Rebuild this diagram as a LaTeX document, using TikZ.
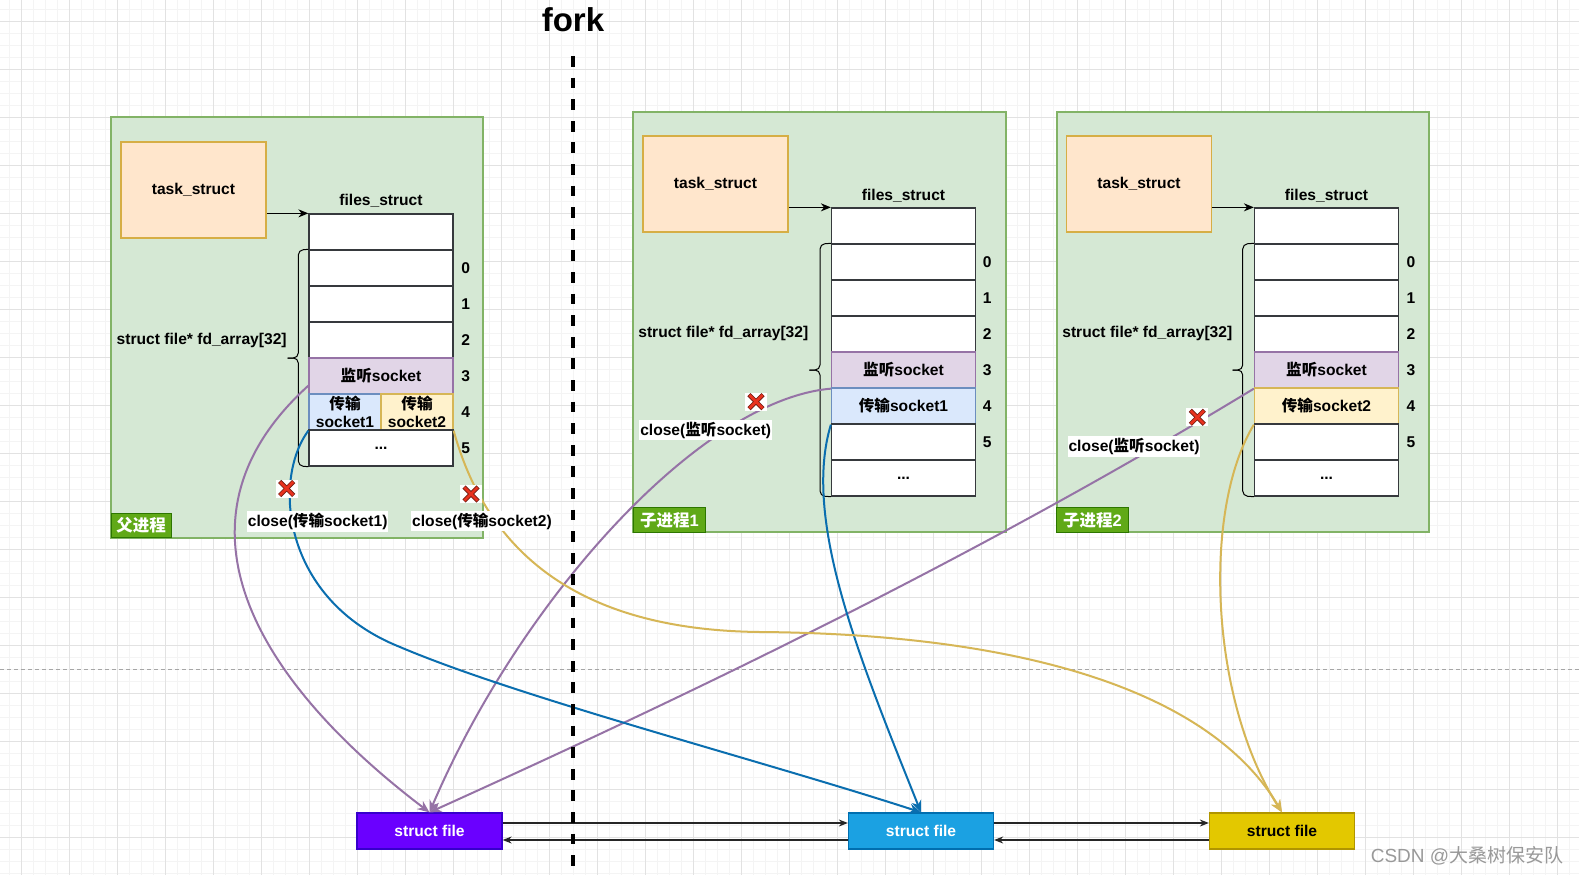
\documentclass[tikz,border=0pt]{standalone}
\usepackage{fontspec}
\setmainfont{Liberation Sans}
\newfontfamily\cjk{Noto Sans CJK SC}
\usetikzlibrary{arrows.meta,calc}
\newcommand\zh[1]{{\cjk #1}}
\definecolor{procfill}{HTML}{D5E8D4}
\definecolor{procline}{HTML}{82B366}
\definecolor{taskfill}{HTML}{FFE6CC}
\definecolor{taskline}{HTML}{D6AE45}
\definecolor{cellline}{HTML}{36393D}
\definecolor{listenfill}{HTML}{E1D5E7}
\definecolor{listenline}{HTML}{9673A6}
\definecolor{bluefill}{HTML}{DAE8FC}
\definecolor{blueline}{HTML}{6C8EBF}
\definecolor{yelfill}{HTML}{FFF2CC}
\definecolor{yelline}{HTML}{D6B656}
\definecolor{tagfill}{HTML}{60A917}
\definecolor{tagline}{HTML}{2D7600}
\definecolor{sfpfill}{HTML}{6A00FF}
\definecolor{sfpline}{HTML}{3700CC}
\definecolor{sfbfill}{HTML}{1BA1E2}
\definecolor{sfbline}{HTML}{006EAF}
\definecolor{sfyfill}{HTML}{E3C800}
\definecolor{sfyline}{HTML}{B09500}
\definecolor{cpurple}{HTML}{9673A6}
\definecolor{cblue}{HTML}{0A6EAF}
\definecolor{cyellow}{HTML}{D6B656}
\definecolor{xred}{HTML}{E8321E}
\definecolor{xdark}{HTML}{6E1A10}
\definecolor{gridmaj}{HTML}{E2E2E2}
\definecolor{gridmin}{HTML}{F4F4F4}
\tikzset{
  every node/.style={font=\bfseries\fontsize{15.6}{17.5}\selectfont, inner sep=0pt},
  proc/.style={draw=procline, fill=procfill, line width=1.2pt},
  tagbox/.style={draw=tagline, fill=tagfill, text=white, line width=1pt,
    font=\bfseries\fontsize{16.5}{18}\selectfont},
  task/.style={draw=taskline, fill=taskfill, line width=1.6pt, minimum width=145, minimum height=96},
  cell/.style={draw=cellline, fill=white, line width=1.3pt, minimum width=144, minimum height=36},
  listen/.style={cell, draw=listenline, fill=listenfill},
  bluecell/.style={cell, draw=blueline, fill=bluefill},
  yelcell/.style={cell, draw=yelline, fill=yelfill},
  halfblue/.style={bluecell, minimum width=72, align=center},
  halfyel/.style={yelcell, minimum width=72, align=center},
  brace/.style={draw=black, line width=1pt, rounded corners=5pt},
  tarrow/.style={draw=black, line width=1pt, -{Stealth[length=10pt,width=8pt]}},
  flow/.style={draw=black!85, line width=1.2pt, -{Stealth[length=9pt,width=7pt]}},
  curv/.style={line width=2pt, -{Stealth[length=12pt,width=10pt]}},
  purplec/.style={curv, draw=cpurple},
  bluec/.style={curv, draw=cblue},
  yellowc/.style={curv, draw=cyellow},
  sfile/.style={minimum width=145, minimum height=36, line width=1.3pt},
  closelbl/.style={fill=white, inner xsep=1pt, inner ysep=2pt},
  xmark/.style={fill=white, minimum width=22, minimum height=18,
    path picture={
      \draw[xdark, line width=4.4pt] ([shift={(-7,-7)}]path picture bounding box.center) -- ([shift={(7,7)}]path picture bounding box.center);
      \draw[xdark, line width=4.4pt] ([shift={(-7,7)}]path picture bounding box.center) -- ([shift={(7,-7)}]path picture bounding box.center);
      \draw[xred, line width=2.8pt] ([shift={(-6.6,-6.6)}]path picture bounding box.center) -- ([shift={(6.6,6.6)}]path picture bounding box.center);
      \draw[xred, line width=2.8pt] ([shift={(-6.6,6.6)}]path picture bounding box.center) -- ([shift={(6.6,-6.6)}]path picture bounding box.center);
    }},
  forkline/.style={draw=black, line width=3.6pt, dash pattern=on 10.8pt off 10.8pt},
}
\begin{document}
\begin{tikzpicture}[x=1pt,y=-1pt]
\useasboundingbox (0,0) rectangle (1579,875);
\fill[white] (0,0) rectangle (1579,875);
% grid
\foreach \i in {0,...,131} \draw[gridmin, line width=0.6pt] ({9+12*\i},0) -- ({9+12*\i},875);
\foreach \j in {0,...,72} \draw[gridmin, line width=0.6pt] (0,{9+12*\j}) -- (1579,{9+12*\j});
\foreach \i in {0,...,32} \draw[gridmaj, line width=0.8pt] ({21+48*\i},0) -- ({21+48*\i},875);
\foreach \j in {0,...,18} \draw[gridmaj, line width=0.8pt] (0,{21+48*\j}) -- (1579,{21+48*\j});
\draw[black!35, line width=0.8pt, dash pattern=on 4pt off 3pt] (0,669) -- (1579,669);

% containers
\node[proc, minimum width=372, minimum height=421] (pproc) at (297,327.5) {};
\node[proc, minimum width=373, minimum height=420] (c1proc) at (819.5,322) {};
\node[proc, minimum width=372, minimum height=420] (c2proc) at (1243,322) {};
\node[tagbox, minimum width=60, minimum height=24] (ptag) at (141,525.5) {\zh{父进程}};
\node[tagbox, minimum width=72, minimum height=25] (c1tag) at (669.5,520) {\zh{子进程}1};
\node[tagbox, minimum width=72, minimum height=25] (c2tag) at (1092.5,520) {\zh{子进程}2};

% parent
\node[task] (ptask) at (193.5,190) {task\_struct};
\node (pfs) at (381,201) {files\_struct};
\node[cell] (ptop) at (381,232) {};
\node[cell] (p0) at (381,268) {};
\node[cell] (p1) at (381,304) {};
\node[cell] (p2) at (381,340) {};
\node[listen] (p3) at (381,376) {\zh{监听}socket};
\node[halfblue] (p4a) at (345,412) {\zh{传输}\\socket1};
\node[halfyel] (p4b) at (417,412) {\zh{传输}\\socket2};
\node[cell] (p5) at (381,448) {...};
\node (pi0) at (465.7,268) {0};
\node (pi1) at (465.7,304) {1};
\node (pi2) at (465.7,340) {2};
\node (pi3) at (465.7,376) {3};
\node (pi4) at (465.7,412) {4};
\node (pi5) at (465.7,448) {5};
\node (pfd) at (201.7,340) {struct file* fd\_array[32]};
\draw[brace] (p0.north west) -- (298.3,250) -- (298.3,358) -- (287.7,358);
\draw[brace] (p5.south west) -- (298.3,466) -- (298.3,358) -- (287.7,358);
\draw[tarrow] (ptask.east |- ptop.north west) -- (ptop.north west);

% child 1
\node[task] (c1task) at (715.5,184) {task\_struct};
\node (c1fs) at (903.5,196) {files\_struct};
\node[cell] (c1top) at (903.5,226) {};
\node[cell] (c1r0) at (903.5,262) {};
\node[cell] (c1r1) at (903.5,298) {};
\node[cell] (c1r2) at (903.5,334) {};
\node[listen] (c1r3) at (903.5,370) {\zh{监听}socket};
\node[bluecell] (c1r4) at (903.5,406) {\zh{传输}socket1};
\node[cell] (c1r5) at (903.5,442) {};
\node[cell] (c1r6) at (903.5,478) {...};
\node (c1i0) at (987.3,262) {0};
\node (c1i1) at (987.3,298) {1};
\node (c1i2) at (987.3,334) {2};
\node (c1i3) at (987.3,370) {3};
\node (c1i4) at (987.3,406) {4};
\node (c1i5) at (987.3,442) {5};
\node (c1fd) at (723.3,333) {struct file* fd\_array[32]};
\draw[brace] (c1r0.north west) -- (820,244) -- (820,370) -- (809.3,370);
\draw[brace] (c1r6.south west) -- (820,496) -- (820,370) -- (809.3,370);
\draw[tarrow] (c1task.east |- c1top.north west) -- (c1top.north west);

% child 2
\node[task] (c2task) at (1139,184) {task\_struct};
\node (c2fs) at (1326.5,196) {files\_struct};
\node[cell] (c2top) at (1326.5,226) {};
\node[cell] (c2r0) at (1326.5,262) {};
\node[cell] (c2r1) at (1326.5,298) {};
\node[cell] (c2r2) at (1326.5,334) {};
\node[listen] (c2r3) at (1326.5,370) {\zh{监听}socket};
\node[yelcell] (c2r4) at (1326.5,406) {\zh{传输}socket2};
\node[cell] (c2r5) at (1326.5,442) {};
\node[cell] (c2r6) at (1326.5,478) {...};
\node (c2i0) at (1411,262) {0};
\node (c2i1) at (1411,298) {1};
\node (c2i2) at (1411,334) {2};
\node (c2i3) at (1411,370) {3};
\node (c2i4) at (1411,406) {4};
\node (c2i5) at (1411,442) {5};
\node (c2fd) at (1147.3,333) {struct file* fd\_array[32]};
\draw[brace] (c2r0.north west) -- (1242.7,244) -- (1242.7,370) -- (1232.7,370);
\draw[brace] (c2r6.south west) -- (1242.7,496) -- (1242.7,370) -- (1232.7,370);
\draw[tarrow] (c2task.east |- c2top.north west) -- (c2top.north west);

% struct files
\node[sfile, draw=sfpline, fill=sfpfill, text=white] (sf1) at (429.5,831) {struct file};
\node[sfile, draw=sfbline, fill=sfbfill, text=white] (sf2) at (921,831) {struct file};
\node[sfile, draw=sfyline, fill=sfyfill, text=black] (sf3) at (1282,831) {struct file};
\draw[flow] ([yshift=8pt]sf1.east) -- ([yshift=8pt]sf2.west);
\draw[flow] ([yshift=-9pt]sf2.west) -- ([yshift=-9pt]sf1.east);
\draw[flow] ([yshift=8pt]sf2.east) -- ([yshift=8pt]sf3.west);
\draw[flow] ([yshift=-9pt]sf3.west) -- ([yshift=-9pt]sf2.east);

% curves
\draw[purplec] ($(p3.south west)+(0,-9)$) .. controls (160,520) and (255,680) .. (sf1.north);
\draw[purplec] (c1r3.south west) .. controls (700,400) and (520,600) .. (sf1.north);
\draw[purplec] (c2r3.south west) .. controls (980,555) and (700,690) .. (sf1.north);
\draw[bluec] (p4a.south west) .. controls (272,480) and (282,600) .. (400,647) .. controls (520,698) and (760,760) .. (sf2.north);
\draw[bluec] (c1r4.south west) .. controls (802,520) and (860,660) .. (sf2.north);
\draw[yellowc] (p4b.south east) .. controls (485,545) and (570,630) .. (760,632) .. controls (1020,634) and (1210,690) .. (sf3.north);
\draw[yellowc] (c2r4.south west) .. controls (1202,510) and (1210,700) .. (sf3.north);

% fork
\coordinate (forktop) at (572.7,56);
\coordinate (forkbot) at (572.7,866);
\draw[forkline] (forktop) -- (forkbot);
\node[font=\bfseries\fontsize{33}{36}\selectfont] (fork) at (573,20) {fork};

% close marks and labels
\node[xmark] (x1) at (286.7,488.5) {};
\node[xmark] (x2) at (471,494) {};
\node[xmark] (x3) at (756,401.7) {};
\node[xmark] (x4) at (1197.3,417.3) {};
\node[closelbl] (cl1) at (317.7,521.5) {close(\zh{传输}socket1)};
\node[closelbl] (cl2) at (482,521) {close(\zh{传输}socket2)};
\node[closelbl] (cl3) at (705.7,430) {close(\zh{监听}socket)};
\node[closelbl] (cl4) at (1134,446.7) {close(\zh{监听}socket)};

% watermark
\node[font=\mdseries\fontsize{19}{22}\selectfont, text=black!40] (wm) at (1467,856) {CSDN @\zh{大桑树保安队}};
\end{tikzpicture}
\end{document}
